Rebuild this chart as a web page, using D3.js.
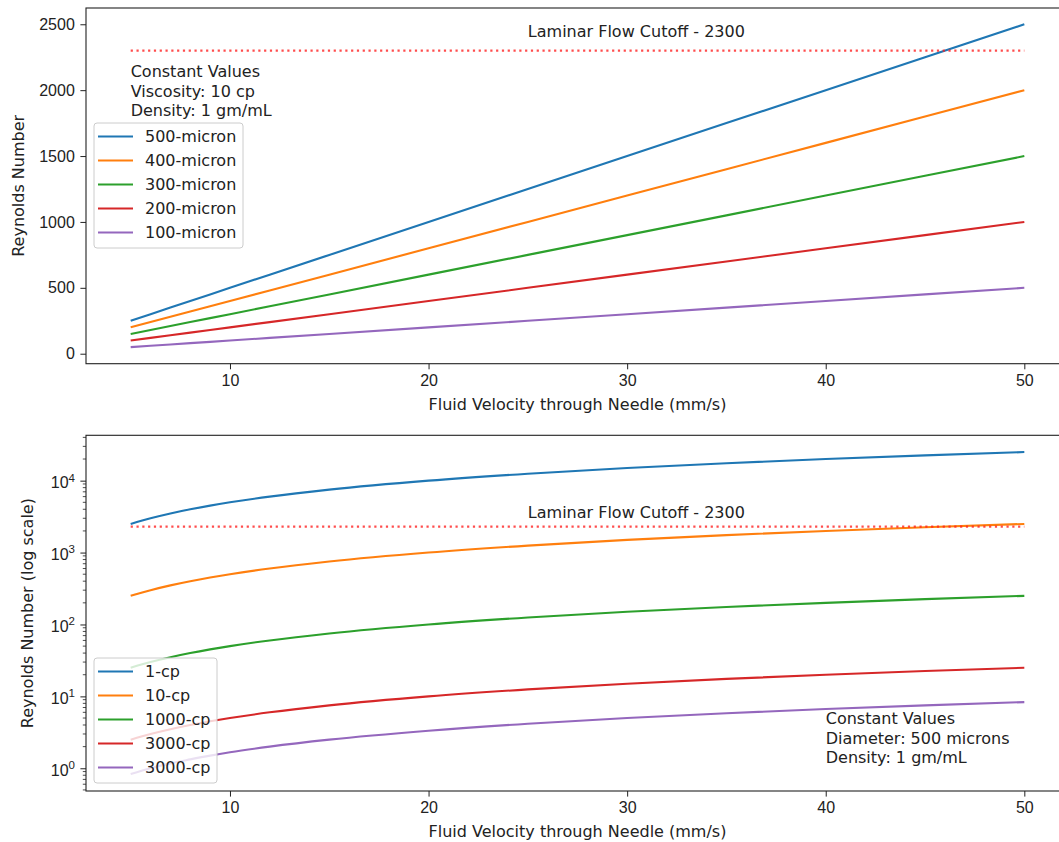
<!DOCTYPE html>
<html>
<head>
<meta charset="utf-8">
<script src="https://cdn.jsdelivr.net/npm/d3@7"></script>
<style>
  body { margin: 0; background: #fff; }
  svg { font-family: "DejaVu Sans", sans-serif; display: block; }
  .tick text { font-size: 16px; fill: #222; }
  .tick line { stroke: #222; }
  .domain { stroke: #222; }
</style>
</head>
<body>
<div id="chart"></div>
<script>

// velocities (mm/s) the curves were sampled at
var velocity = [5, 6, 7, 8, 9, 10, 12, 15, 20, 25, 30, 35, 40, 45, 50];

// top chart: Reynolds number for each needle diameter
var diameterNames = ['500-micron', '400-micron', '300-micron', '200-micron', '100-micron'];
var re500 = [250, 300, 350, 400, 450, 500, 600, 750, 1000, 1250, 1500, 1750, 2000, 2250, 2500];
var re400 = [200, 240, 280, 320, 360, 400, 480, 600, 800, 1000, 1200, 1400, 1600, 1800, 2000];
var re300 = [150, 180, 210, 240, 270, 300, 360, 450, 600, 750, 900, 1050, 1200, 1350, 1500];
var re200 = [100, 120, 140, 160, 180, 200, 240, 300, 400, 500, 600, 700, 800, 900, 1000];
var re100 = [50, 60, 70, 80, 90, 100, 120, 150, 200, 250, 300, 350, 400, 450, 500];

// bottom chart: Reynolds number for each viscosity
var viscosityNames = ['1-cp', '10-cp', '1000-cp', '3000-cp', '3000-cp'];
var reV1 = [2500, 3000, 3500, 4000, 4500, 5000, 6000, 7500, 10000, 12500, 15000, 17500, 20000, 22500, 25000];
var reV10 = [250, 300, 350, 400, 450, 500, 600, 750, 1000, 1250, 1500, 1750, 2000, 2250, 2500];
var reV1000 = [25, 30, 35, 40, 45, 50, 60, 75, 100, 125, 150, 175, 200, 225, 250];
var reV3000a = [2.5, 3, 3.5, 4, 4.5, 5, 6, 7.5, 10, 12.5, 15, 17.5, 20, 22.5, 25];
var reV3000b = [0.83, 1.0, 1.17, 1.33, 1.5, 1.67, 2.0, 2.5, 3.33, 4.17, 5.0, 5.83, 6.67, 7.5, 8.33];

var cutoff = 2300;
var cutoffRange = [5, 50];

var xTicks = [10, 20, 30, 40, 50];
var yTicksTop = [0, 500, 1000, 1500, 2000, 2500];
var yTicksLog = [1, 10, 100, 1000, 10000];

var notesTop = ['Constant Values', 'Viscosity: 10 cp', 'Density: 1 gm/mL'];
var notesBottom = ['Constant Values', 'Diameter: 500 microns', 'Density: 1 gm/mL'];

var colors = ['#1f77b4', '#ff7f0e', '#2ca02c', '#d62728', '#9467bd'];

var width = 1059, height = 842;
var left = 86, right = 1069;
var fs = 16;

var svg = d3.select('#chart').append('svg')
    .attr('width', width)
    .attr('height', height);

var x = d3.scaleLinear().domain([2.75, 52.25]).range([left, right]);

function drawPanel(opts) {
    var g = svg.append('g');
    var y = opts.y;
    var top = opts.top, bottom = opts.bottom;

    // series
    var line = d3.line()
        .x(function(d) { return x(d[0]); })
        .y(function(d) { return y(d[1]); })
        .curve(opts.log ? d3.curveMonotoneX : d3.curveLinear);

    g.selectAll('path.series')
        .data(opts.series)
        .enter()
        .append('path')
        .attr('class', 'series')
        .attr('fill', 'none')
        .attr('stroke', function(d, i) { return colors[i]; })
        .attr('stroke-width', 2.1)
        .attr('d', function(d) {
            return line(velocity.map(function(v, j) { return [v, d[j]]; }));
        });

    // laminar cutoff
    g.append('line')
        .attr('x1', x(cutoffRange[0])).attr('x2', x(cutoffRange[1]))
        .attr('y1', y(cutoff)).attr('y2', y(cutoff))
        .attr('stroke', '#ff2020')
        .attr('stroke-opacity', 0.8)
        .attr('stroke-width', 2.2)
        .attr('stroke-dasharray', '2.2,3.6');

    g.append('text')
        .attr('x', x(25))
        .attr('y', y(opts.cutoffLabelAt))
        .style('font-size', fs + 'px')
        .attr('fill', '#222')
        .text('Laminar Flow Cutoff - ' + cutoff);

    // axes
    var xAxis = d3.axisBottom(x).tickValues(xTicks).tickSize(5.6).tickPadding(5.2);
    g.append('g')
        .attr('transform', 'translate(0,' + bottom + ')')
        .call(xAxis)
        .call(function(s) { s.select('.domain').remove(); });

    var yAxis = d3.axisLeft(y).tickValues(opts.yTicks).tickSize(5.6).tickPadding(5.6)
        .tickFormat(opts.log ? function() { return ''; } : d3.format('d'));
    var ya = g.append('g')
        .attr('transform', 'translate(' + left + ',0)')
        .call(yAxis)
        .call(function(s) { s.select('.domain').remove(); });

    if (opts.log) {
        // minor ticks
        var minors = [];
        for (var e = -1; e <= 4; e++) {
            for (var m = 2; m <= 9; m++) {
                var v = m * Math.pow(10, e);
                if (y(v) >= top && y(v) <= bottom) minors.push(v);
            }
        }
        g.selectAll('line.minor')
            .data(minors)
            .enter()
            .append('line')
            .attr('x1', left - 3.2).attr('x2', left)
            .attr('y1', function(d) { return y(d); })
            .attr('y2', function(d) { return y(d); })
            .attr('stroke', '#222')
            .attr('stroke-width', 0.8);

        // 10^n labels
        ya.selectAll('.tick').each(function(d) {
            var t = d3.select(this).select('text').attr('x', -11).attr('dy', '0.42em');
            t.append('tspan').text('10');
            t.append('tspan')
                .attr('dy', '-0.55em')
                .style('font-size', '11.5px')
                .text(Math.round(Math.log10(d)));
        });
    }

    // frame
    g.append('rect')
        .attr('x', left).attr('y', top)
        .attr('width', right - left).attr('height', bottom - top)
        .attr('fill', 'none')
        .attr('stroke', '#222')
        .attr('stroke-width', 1.1);

    // axis titles
    g.append('text')
        .attr('x', (left + right) / 2)
        .attr('y', bottom + 46)
        .attr('text-anchor', 'middle')
        .style('font-size', fs + 'px')
        .attr('fill', '#222')
        .text('Fluid Velocity through Needle (mm/s)');

    g.append('text')
        .attr('transform', 'translate(' + opts.yLabelX + ',' + ((top + bottom) / 2) + ') rotate(-90)')
        .attr('text-anchor', 'middle')
        .style('font-size', fs + 'px')
        .attr('fill', '#222')
        .text(opts.yLabel);

    // note block
    g.append('text')
        .attr('x', x(opts.noteAt[0]))
        .attr('y', opts.noteAt[1])
        .style('font-size', fs + 'px')
        .attr('fill', '#222')
        .selectAll('tspan')
        .data(opts.notes)
        .enter()
        .append('tspan')
        .attr('x', x(opts.noteAt[0]))
        .attr('dy', function(d, i) { return i === 0 ? 0 : 19.5; })
        .text(function(d) { return d; });

    // legend
    var lg = g.append('g').attr('transform', 'translate(94,' + opts.legendTop + ')');
    lg.append('rect')
        .attr('width', opts.legendWidth).attr('height', 125)
        .attr('rx', 3)
        .attr('fill', '#fff').attr('fill-opacity', 0.8)
        .attr('stroke', '#ccc');
    var items = lg.selectAll('g.item')
        .data(opts.names)
        .enter()
        .append('g')
        .attr('transform', function(d, i) { return 'translate(0,' + (13.5 + i * 24) + ')'; });
    items.append('line')
        .attr('x1', 4).attr('x2', 39)
        .attr('stroke', function(d, i) { return colors[i]; })
        .attr('stroke-width', 2.1);
    items.append('text')
        .attr('x', 51).attr('dy', '0.36em')
        .style('font-size', fs + 'px')
        .attr('fill', '#222')
        .text(function(d) { return d; });
}

var yTop = d3.scaleLinear().domain([-75.8, 2623.5]).range([363.7, 8]);
drawPanel({
    y: yTop, top: 8, bottom: 363.7, log: false,
    series: [re500, re400, re300, re200, re100],
    names: diameterNames,
    yTicks: yTicksTop,
    cutoffLabelAt: 2400,
    yLabel: 'Reynolds Number', yLabelX: 24,
    notes: notesTop, noteAt: [5, 77],
    legendTop: 123, legendWidth: 149
});

var yBot = d3.scaleLog().domain([Math.pow(10, -0.316), Math.pow(10, 4.631)]).range([791, 435.3]);
drawPanel({
    y: yBot, top: 435.3, bottom: 791, log: true,
    series: [reV1, reV10, reV1000, reV3000a, reV3000b],
    names: viscosityNames,
    yTicks: yTicksLog,
    cutoffLabelAt: 3000,
    yLabel: 'Reynolds Number (log scale)', yLabelX: 33,
    notes: notesBottom, noteAt: [40, 724],
    legendTop: 658, legendWidth: 123
});

</script>
</body>
</html>
